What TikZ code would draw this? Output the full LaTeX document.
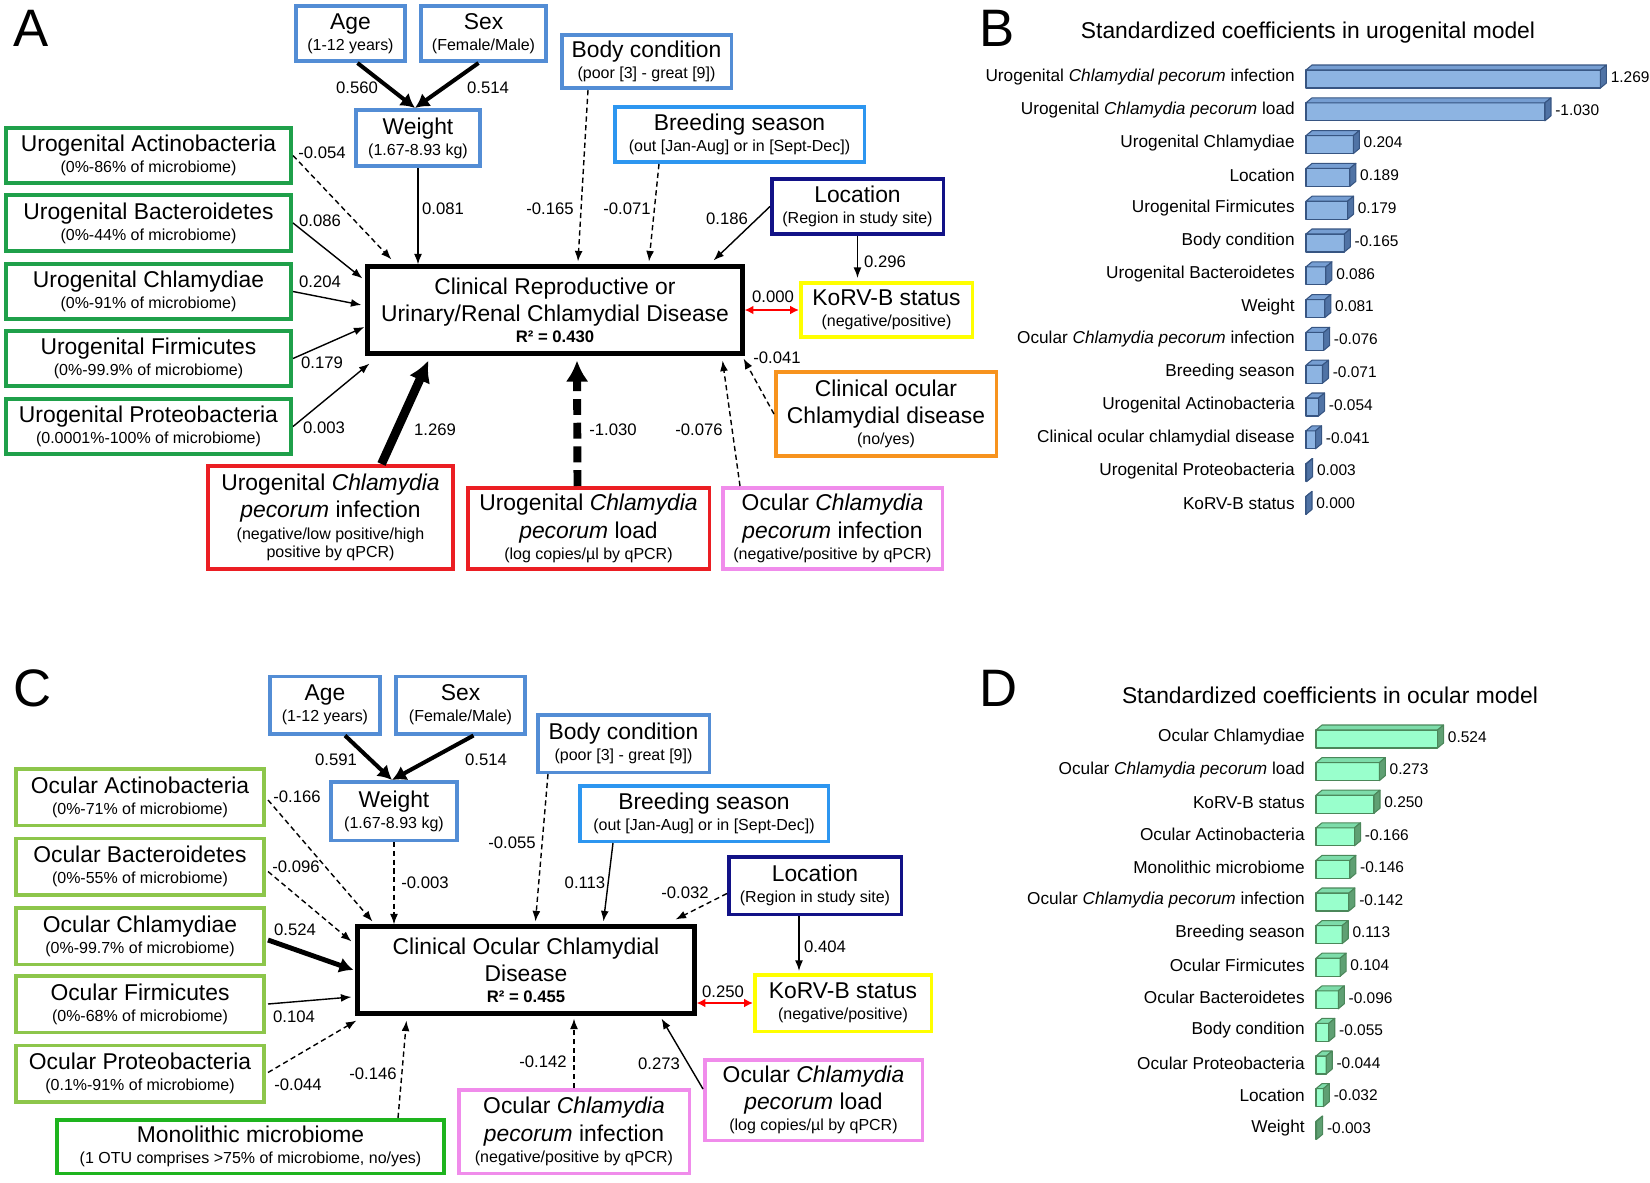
\documentclass[tikz,border=0pt]{standalone}
\usepackage{fontspec}
\setmainfont{Liberation Sans}
\usetikzlibrary{positioning,calc,arrows.meta}

\definecolor{agebl}{RGB}{83,141,213}
\definecolor{seabl}{RGB}{45,150,240}
\definecolor{locnv}{RGB}{18,18,135}
\definecolor{urogr}{RGB}{31,160,74}
\definecolor{ocugr}{RGB}{141,198,75}
\definecolor{monogr}{RGB}{30,180,30}
\definecolor{korvyl}{RGB}{255,255,0}
\definecolor{cocor}{RGB}{247,147,30}
\definecolor{infrd}{RGB}{235,30,35}
\definecolor{ocupk}{RGB}{240,140,235}
\definecolor{ubfront}{RGB}{141,180,226}
\definecolor{ubtop}{RGB}{118,158,210}
\definecolor{ubside}{RGB}{80,115,165}
\definecolor{ubline}{RGB}{55,85,130}
\definecolor{obfront}{RGB}{153,255,204}
\definecolor{obtop}{RGB}{125,220,170}
\definecolor{obside}{RGB}{95,160,115}
\definecolor{obline}{RGB}{75,135,90}

\tikzset{vbox/.style={draw, line width=2pt, align=center, inner sep=0pt, font=\fontsize{13}{15.5}\selectfont}}
\tikzset{sz/.style 2 args={minimum width={(#1-3.5)*0.02cm}, minimum height={(#2-3.5)*0.02cm}}}
\tikzset{mainbox/.style={vbox, draw=black, line width=2.6pt}}
\tikzset{coef/.style={inner sep=0pt, font=\fontsize{9.5}{11}\selectfont}}
\tikzset{arr/.style={draw, line width=0.8pt, -{Latex[length=6pt,width=4.5pt]}}}
\tikzset{darr/.style={arr, dash pattern=on 3pt off 2pt}}
\tikzset{warr/.style={arr, line width=2.3pt, -{Latex[length=8pt,width=9pt]}}}
\tikzset{harr/.style={arr, line width=5pt, -{Latex[length=12pt,width=13pt]}}}
\tikzset{hdarr/.style={harr, line width=4.5pt, dash pattern=on 9pt off 4.5pt}}
\tikzset{korvarr/.style={draw=red, line width=1pt, {Latex[length=5pt,width=5pt]}-{Latex[length=5pt,width=5pt]}}}
\tikzset{panel/.style={inner sep=0pt, font=\fontsize{30}{30}\selectfont}}
\tikzset{bartitle/.style={inner sep=0pt, font=\fontsize{13}{15}\selectfont}}
\tikzset{barlab/.style={inner sep=0pt, anchor=east, font=\fontsize{9.8}{11}\selectfont}}
\tikzset{barval/.style={inner sep=0pt, anchor=west, font=\fontsize{8.8}{10}\selectfont}}
\tikzset{ubar/.style={draw=ubline, line width=0.6pt, line join=round}}
\tikzset{obar/.style={draw=obline, line width=0.6pt, line join=round}}
\newcommand\vsub[1]{\\[-3.5pt]{\fontsize{9.1}{11}\selectfont #1}}
\newcommand\vsubb[2]{\\[-3pt]{\fontsize{9.1}{11}\selectfont #1}\\[-5.5pt]{\fontsize{9.1}{11}\selectfont #2}}

\begin{document}
\begin{tikzpicture}[x=0.02cm, y=-0.02cm]
\useasboundingbox (0,0) rectangle (1650,1183);

% ---------- A: urogenital path model
\node[panel] (lA) at (31.5,28) {A};
\node[vbox, draw=agebl, sz={113}{59}] (ageA) at (350.5,33.5) {Age\vsub{(1-12 years)}};
\node[vbox, draw=agebl, sz={129}{59}] (sexA) at (483.5,33.5) {Sex\vsub{(Female/Male)}};
\node[vbox, draw=agebl, sz={173}{57}] (bcA) at (646.5,61.5) {Body condition\vsub{(poor [3] - great [9])}};
\node[vbox, draw=agebl, sz={128}{60}] (wtA) at (418,138) {Weight\vsub{(1.67-8.93 kg)}};
\node[vbox, draw=seabl, sz={253}{59}] (brA) at (739.5,134.5) {Breeding season\vsub{(out [Jan-Aug] or in [Sept-Dec])}};
\node[vbox, draw=locnv, sz={175}{59}] (locA) at (857.5,206.5) {Location\vsub{(Region in study site)}};
\node[vbox, draw=urogr, sz={289}{59}] (actA) at (148.5,155.5) {Urogenital Actinobacteria\vsub{(0\%-86\% of microbiome)}};
\node[vbox, draw=urogr, sz={289}{59}] (bacA) at (148.5,223) {Urogenital Bacteroidetes\vsub{(0\%-44\% of microbiome)}};
\node[vbox, draw=urogr, sz={289}{59}] (chlA) at (148.5,291.5) {Urogenital Chlamydiae\vsub{(0\%-91\% of microbiome)}};
\node[vbox, draw=urogr, sz={289}{59}] (firA) at (148.5,358.5) {Urogenital Firmicutes\vsub{(0\%-99.9\% of microbiome)}};
\node[vbox, draw=urogr, sz={289}{59}] (proA) at (148.5,426.5) {Urogenital Proteobacteria\vsub{(0.0001\%-100\% of microbiome)}};
\node[mainbox, sz={378}{90}] (mainA) at (555,310) {Clinical Reproductive or\\Urinary/Renal Chlamydial Disease\\[-3.5pt]{\fontsize{9.5}{11}\selectfont\bfseries R² = 0.430}};
\node[vbox, draw=korvyl, sz={175}{58}] (korvA) at (886.5,310) {KoRV-B status\vsub{(negative/positive)}};
\node[vbox, draw=cocor, sz={224}{88}] (cocA) at (886,414) {Clinical ocular\\Chlamydial disease\vsub{(no/yes)}};
\node[vbox, draw=infrd, sz={249}{107}] (uinfA) at (330.5,517.5) {Urogenital \textit{Chlamydia}\\\textit{pecorum} infection\vsubb{(negative/low positive/high}{positive by qPCR)}};
\node[vbox, draw=infrd, sz={245}{85}] (uloadA) at (588.5,528.5) {Urogenital \textit{Chlamydia}\\\textit{pecorum} load\vsub{(log copies/µl by qPCR)}};
\node[vbox, draw=ocupk, sz={223}{85}] (oinfA) at (832.5,528.5) {Ocular \textit{Chlamydia}\\\textit{pecorum} infection\vsub{(negative/positive by qPCR)}};

\draw[warr] ($(ageA.south)+(7,0)$) -- ($(wtA.north)+(-3,0)$);
\draw[warr] ($(sexA.south)+(-5,0)$) -- ($(wtA.north)+(-3,0)$);
\draw[darr] (actA.east) -- ($(mainA.north west)+(26,-5)$);
\draw[arr] (bacA.east) -- ($(mainA.north west)+(-3,14)$);
\draw[arr] (chlA.east) -- ($(mainA.west)+(-4,-5)$);
\draw[arr] (firA.east) -- ($(mainA.west)+(-1,17)$);
\draw[arr] (proA.east) -- ($(mainA.south west)+(4,8)$);
\draw[arr] (wtA.south) -- (wtA.south |- mainA.north);
\draw[darr] ($(bcA.south west)+(28,0)$) -- ($(mainA.north)+(23,-3)$);
\draw[darr] ($(brA.south west)+(46,0)$) -- ($(mainA.north)+(94,-3)$);
\draw[arr] (locA.west) -- ($(mainA.north east)+(-31,-4)$);
\draw[arr] (locA.south) -- ($(locA.south |- korvA.north)+(0,-3)$);
\draw[korvarr] (mainA.east) -- (korvA.west);
\draw[darr] (cocA.west) -- ($(mainA.south east)+(-1,3)$);
\draw[darr] ($(oinfA.north west)+(19,0)$) -- ($(mainA.south east)+(-22,5)$);
\draw[hdarr] ($(uloadA.north)+(-11,0)$) -- ($(mainA.south)+(22,5)$);
\draw[harr] ($(uinfA.north)+(51,0)$) -- ($(mainA.south west)+(63,5)$);

\node[coef] (cA1) at (357,88) {0.560};
\node[coef] (cA2) at (488,88) {0.514};
\node[coef] (cA3) at (322,153) {-0.054};
\node[coef] (cA4) at (320,221) {0.086};
\node[coef] (cA5) at (320,282) {0.204};
\node[coef] (cA6) at (322,363) {0.179};
\node[coef] (cA7) at (324,428) {0.003};
\node[coef] (cA8) at (443,209) {0.081};
\node[coef] (cA9) at (550,209) {-0.165};
\node[coef] (cA10) at (627,209) {-0.071};
\node[coef] (cA11) at (727,219) {0.186};
\node[coef] (cA12) at (885,262) {0.296};
\node[coef] (cA13) at (773,297) {0.000};
\node[coef] (cA14) at (777,358) {-0.041};
\node[coef] (cA15) at (435,430) {1.269};
\node[coef] (cA16) at (613,430) {-1.030};
\node[coef] (cA17) at (699,430) {-0.076};

% ---------- B: urogenital coefficients
\node[panel] (lB) at (997,28) {B};
\node[bartitle] (tB) at (1308,33) {Standardized coefficients in urogenital model};
\foreach \lab/\val/\len [count=\i from 0] in {
  Urogenital \textit{Chlamydial pecorum} infection/1.269/1.269,
  Urogenital \textit{Chlamydia pecorum} load/-1.030/1.030,
  Urogenital Chlamydiae/0.204/0.204,
  Location/0.189/0.189,
  Urogenital Firmicutes/0.179/0.179,
  Body condition/-0.165/0.165,
  Urogenital Bacteroidetes/0.086/0.086,
  Weight/0.081/0.081,
  Ocular \textit{Chlamydia pecorum} infection/-0.076/0.076,
  Breeding season/-0.071/0.071,
  Urogenital Actinobacteria/-0.054/0.054,
  Clinical ocular chlamydial disease/-0.041/0.041,
  Urogenital Proteobacteria/0.003/0.003,
  KoRV-B status/0.000/0.000}{
  \pgfmathsetmacro\yy{77+32.8*\i}
  \pgfmathsetmacro\xx{1306+232*\len}
  \node[barlab] (labB\i) at (1295,\yy) {\lab};
  \filldraw[ubar, fill=ubfront] (1306,\yy-7) rectangle (\xx,\yy+11);
  \filldraw[ubar, fill=ubtop] (1306,\yy-7) -- (1312,\yy-12) -- (\xx+6,\yy-12) -- (\xx,\yy-7) -- cycle;
  \filldraw[ubar, fill=ubside] (\xx,\yy-7) -- (\xx+6,\yy-12) -- (\xx+6,\yy+6) -- (\xx,\yy+11) -- cycle;
  \node[barval] (valB\i) at (\xx+10,\yy) {\val};
}

% ---------- C: ocular path model
\node[panel] (lC) at (33,688) {C};
\node[vbox, draw=agebl, sz={114}{61}] (ageC) at (325,705) {Age\vsub{(1-12 years)}};
\node[vbox, draw=agebl, sz={133}{61}] (sexC) at (460.5,705) {Sex\vsub{(Female/Male)}};
\node[vbox, draw=agebl, sz={175}{61}] (bcC) at (623.5,743.5) {Body condition\vsub{(poor [3] - great [9])}};
\node[vbox, draw=agebl, sz={130}{62}] (wtC) at (394,811) {Weight\vsub{(1.67-8.93 kg)}};
\node[vbox, draw=seabl, sz={252}{59}] (brC) at (704,813.5) {Breeding season\vsub{(out [Jan-Aug] or in [Sept-Dec])}};
\node[vbox, draw=locnv, sz={176}{61}] (locC) at (815,885.5) {Location\vsub{(Region in study site)}};
\node[vbox, draw=ocugr, sz={252}{60}] (actC) at (140,797) {Ocular Actinobacteria\vsub{(0\%-71\% of microbiome)}};
\node[vbox, draw=ocugr, sz={252}{60}] (bacC) at (140,866.5) {Ocular Bacteroidetes\vsub{(0\%-55\% of microbiome)}};
\node[vbox, draw=ocugr, sz={252}{60}] (chlC) at (140,936) {Ocular Chlamydiae\vsub{(0\%-99.7\% of microbiome)}};
\node[vbox, draw=ocugr, sz={252}{60}] (firC) at (140,1004) {Ocular Firmicutes\vsub{(0\%-68\% of microbiome)}};
\node[vbox, draw=ocugr, sz={252}{60}] (proC) at (140,1073.5) {Ocular Proteobacteria\vsub{(0.1\%-91\% of microbiome)}};
\node[vbox, draw=monogr, sz={391}{57}] (monoC) at (250.5,1146.5) {Monolithic microbiome\vsub{(1 OTU comprises >75\% of microbiome, no/yes)}};
\node[mainbox, sz={340}{90}] (mainC) at (526,970) {Clinical Ocular Chlamydial\\Disease\\[-3.5pt]{\fontsize{9.5}{11}\selectfont\bfseries R² = 0.455}};
\node[vbox, draw=korvyl, sz={180}{60}] (korvC) at (843,1003) {KoRV-B status\vsub{(negative/positive)}};
\node[vbox, draw=ocupk, sz={234}{87}] (oinfC) at (574,1131.5) {Ocular \textit{Chlamydia}\\\textit{pecorum} infection\vsub{(negative/positive by qPCR)}};
\node[vbox, draw=ocupk, sz={221}{84}] (oloadC) at (813.5,1100) {Ocular \textit{Chlamydia}\\\textit{pecorum} load\vsub{(log copies/µl by qPCR)}};

\draw[warr] ($(ageC.south)+(20,0)$) -- ($(wtC.north)+(-2,0)$);
\draw[warr] ($(sexC.south)+(13,0)$) -- ($(wtC.north)+(-2,0)$);
\draw[darr] (wtC.south) -- (wtC.south |- mainC.north);
\draw[darr] ($(bcC.south west)+(12,0)$) -- ($(mainC.north west)+(180,-3)$);
\draw[arr] ($(brC.south west)+(35,0)$) -- ($(mainC.north west)+(248,-3)$);
\draw[darr] ($(locC.west)+(0,8)$) -- ($(mainC.north east)+(-21,-5)$);
\draw[arr] ($(locC.south)+(-16,0)$) -- ($(locC.south |- korvC.north)+(-16,-2)$);
\draw[korvarr] (mainC.east |- korvC.west) -- (korvC.west);
\draw[darr] ($(actC.east)+(2,3)$) -- ($(mainC.north west)+(17,-3)$);
\draw[darr] ($(bacC.east)+(2,5)$) -- ($(mainC.north west)+(-4,17)$);
\draw[warr, line width=2.8pt] ($(chlC.east)+(2,4)$) -- ($(mainC.west)+(-2,0)$);
\draw[arr] ($(firC.east)+(2,0)$) -- ($(mainC.west)+(-4,27)$);
\draw[darr] ($(proC.east)+(2,-1)$) -- ($(mainC.south west)+(1,5)$);
\draw[darr] ($(monoC.north)+(147.5,0)$) -- ($(mainC.south west)+(51,5)$);
\draw[darr] (oinfC.north) -- ($(oinfC.north |- mainC.south)+(0,3)$);
\draw[arr] ($(oloadC.north west)+(0,31)$) -- ($(mainC.south east)+(-35,3)$);

\node[coef] (cC1) at (336,760) {0.591};
\node[coef] (cC2) at (486,760) {0.514};
\node[coef] (cC3) at (297,797) {-0.166};
\node[coef] (cC4) at (296,867) {-0.096};
\node[coef] (cC5) at (295,930) {0.524};
\node[coef] (cC6) at (294,1017) {0.104};
\node[coef] (cC7) at (298,1085) {-0.044};
\node[coef] (cC8) at (373,1074) {-0.146};
\node[coef] (cC9) at (425,883) {-0.003};
\node[coef] (cC10) at (512,843) {-0.055};
\node[coef] (cC11) at (585,883) {0.113};
\node[coef] (cC12) at (685,893) {-0.032};
\node[coef] (cC13) at (825,947) {0.404};
\node[coef] (cC14) at (723,992) {0.250};
\node[coef] (cC15) at (543,1062) {-0.142};
\node[coef] (cC16) at (659,1064) {0.273};

% ---------- D: ocular coefficients
\node[panel] (lD) at (999,688) {D};
\node[bartitle] (tD) at (1330,695) {Standardized coefficients in ocular model};
\foreach \lab/\val/\len [count=\i from 0] in {
  Ocular Chlamydiae/0.524/0.524,
  Ocular \textit{Chlamydia pecorum} load/0.273/0.273,
  KoRV-B status/0.250/0.250,
  Ocular Actinobacteria/-0.166/0.166,
  Monolithic microbiome/-0.146/0.146,
  Ocular \textit{Chlamydia pecorum} infection/-0.142/0.142,
  Breeding season/0.113/0.113,
  Ocular Firmicutes/0.104/0.104,
  Ocular Bacteroidetes/-0.096/0.096,
  Body condition/-0.055/0.055,
  Ocular Proteobacteria/-0.044/0.044,
  Location/-0.032/0.032,
  Weight/-0.003/0.003}{
  \pgfmathsetmacro\yy{737+32.6*\i}
  \pgfmathsetmacro\xx{1316+232*\len}
  \node[barlab] (labD\i) at (1305,\yy) {\lab};
  \filldraw[obar, fill=obfront] (1316,\yy-7) rectangle (\xx,\yy+11);
  \filldraw[obar, fill=obtop] (1316,\yy-7) -- (1322,\yy-12) -- (\xx+6,\yy-12) -- (\xx,\yy-7) -- cycle;
  \filldraw[obar, fill=obside] (\xx,\yy-7) -- (\xx+6,\yy-12) -- (\xx+6,\yy+6) -- (\xx,\yy+11) -- cycle;
  \node[barval] (valD\i) at (\xx+10,\yy) {\val};
}
\end{tikzpicture}
\end{document}
